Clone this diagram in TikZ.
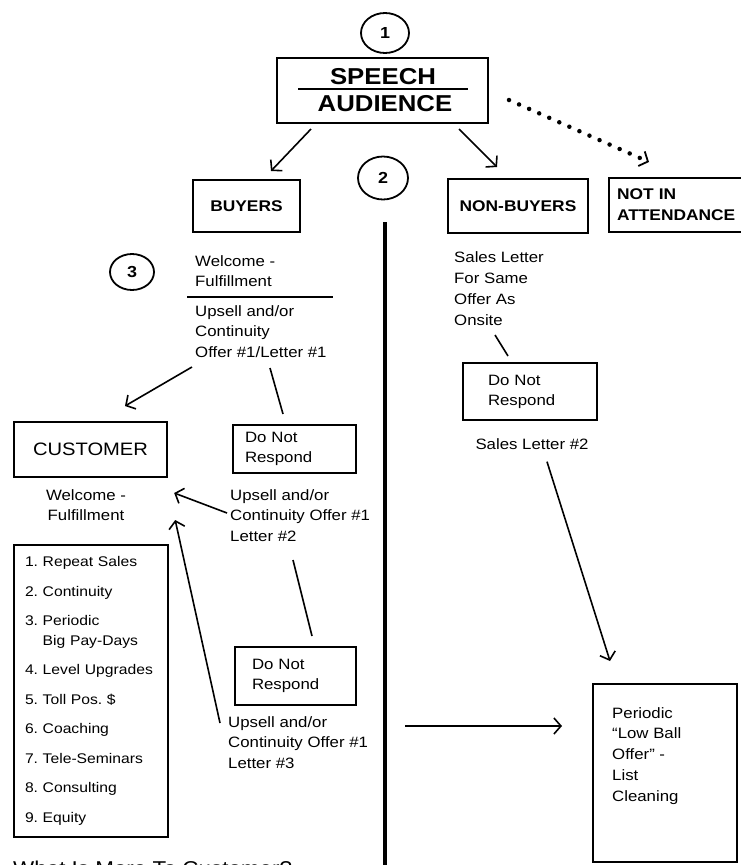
\documentclass[tikz,border=0pt]{standalone}
\usepackage{fontspec}
\setmainfont{Liberation Sans}[FakeStretch=1.12]
\usetikzlibrary{arrows.meta,shapes.geometric}
\newcommand\myfs[2]{\fontsize{#1}{#2}\selectfont}
\frenchspacing
\tikzset{
  box/.style={draw, line width=2pt, inner sep=0pt},
  circ/.style={draw, ellipse, line width=1.8pt, inner sep=0pt, font=\bfseries\myfs{16}{18}},
  txt/.style={inner sep=0pt, align=left, anchor=north west, font=\myfs{15}{20.5}},
  lbl/.style={font=\bfseries\myfs{15.5}{21}},
  dnr/.style={box, align=left, font=\myfs{15}{20}},
  ln/.style={line width=1.6pt},
  arr/.style={line width=1.6pt, -{Straight Barb[length=7pt,width=16pt]}},
  dotarr/.style={line width=4.5pt, line cap=round, dash pattern=on 0pt off 11pt,
     -{Straight Barb[length=7pt,width=16pt,line width=1.8pt]}},
}
\begin{document}
\frenchspacing
\begin{tikzpicture}[x=1pt,y=-1pt]
\useasboundingbox (0,0) rectangle (740,865);
\fill[white] (0,0) rectangle (740,865);

% top
\node[circ, minimum width=48pt, minimum height=40pt] (c1) at (385,33) {1};
\node[box, minimum width=211pt, minimum height=65pt] (speech) at (382.5,90.5) {};
\node[inner sep=0pt, font=\bfseries\myfs{23}{26}] (speecht) at (383,76.5) {SPEECH};
\node[inner sep=0pt, font=\bfseries\myfs{23}{26}] (audt) at (385,104) {AUDIENCE};
\draw[line width=2pt] (298,89) -- (468,89);

\node[circ, minimum width=50pt, minimum height=43pt] (c2) at (383,178) {2};
\node[box, lbl, minimum width=107pt, minimum height=52pt] (buyers) at (246.5,206) {BUYERS};
\node[box, lbl, minimum width=140pt, minimum height=54pt] (nonbuyers) at (518,206) {NON-BUYERS};
\node[box, lbl, align=left, text width=120pt, inner xsep=8pt, minimum height=54pt] (notin) at (677,205) {NOT IN\\ATTENDANCE};

\draw[arr] ([xshift=35pt,yshift=-5pt]speech.south west) -- ([xshift=79pt,yshift=8pt]buyers.north west);
\draw[arr] ([xshift=-30pt,yshift=-5pt]speech.south east) -- ([xshift=50pt,yshift=11pt]nonbuyers.north west);
\draw[dotarr] ([xshift=20pt,yshift=-9.5pt]speech.east) -- ([xshift=41pt,yshift=15pt]notin.north west);

% divider
\coordinate (vtop) at (385,222);
\coordinate (vbot) at (385,875);
\draw[line width=4pt] (vtop) -- (vbot);

% buyers branch
\node[circ, minimum width=44pt, minimum height=36pt] (c3) at (132,272) {3};
\node[txt] (bw) at (195,255) {Welcome -\\Fulfillment};
\draw[line width=1.8pt] (187,297) -- (333,297);
\node[txt] (bu) at (195,305) {Upsell and/or\\Continuity\\Offer \#1/Letter \#1};

\node[box, minimum width=153pt, minimum height=55pt, font=\myfs{18}{20}] (customer) at (90.5,449.5) {CUSTOMER};
\node[dnr, text width=99pt, inner xsep=12pt, minimum height=48pt] (dnr1) at (294.5,449) {Do Not\\Respond};

\coordinate (u1a) at (192,367);
\coordinate (u1b) at (270,368);
\draw[arr] (u1a) -- ([xshift=34.5pt,yshift=15pt]customer.north);
\draw[ln] (u1b) -- ([xshift=-11.5pt,yshift=10pt]dnr1.north);

\node[txt, align=center, anchor=north] (cwel) at (86,489) {Welcome -\\Fulfillment};
\node[txt] (ups2) at (230,489) {Upsell and/or\\Continuity Offer \#1\\Letter \#2};

\node[box, align=left, text width=132pt, inner xsep=11pt, minimum height=292pt, font=\myfs{14}{19.5}] (list) at (91,691)
 {1. Repeat Sales\\[10pt]
  2. Continuity\\[10pt]
  3. Periodic\\\hphantom{3.\ }Big Pay-Days\\[10pt]
  4. Level Upgrades\\[10pt]
  5. Toll Pos. \$\\[10pt]
  6. Coaching\\[10pt]
  7. Tele-Seminars\\[10pt]
  8. Consulting\\[10pt]
  9. Equity};

\node[dnr, text width=87pt, inner xsep=17pt, minimum height=58pt] (dnr2) at (295.5,676) {Do Not\\Respond};
\node[txt] (ups3) at (228,716) {Upsell and/or\\Continuity Offer \#1\\Letter \#3};

\coordinate (u2a) at (227,513);
\coordinate (u2b) at (293,560);
\coordinate (u3a) at (220,723);
\draw[arr] (u2a) -- ([xshift=48pt,yshift=-4pt]cwel.north east);
\draw[ln] (u2b) -- ([xshift=16.5pt,yshift=10pt]dnr2.north);
\draw[arr] (u3a) -- ([xshift=49pt,yshift=-31pt]cwel.north east);

% non-buyers branch
\node[txt, font=\myfs{15}{21}] (nbt) at (454,251) {Sales Letter\\For Same\\Offer As\\Onsite};
\node[dnr, text width=84pt, inner xsep=25pt, minimum height=57pt] (dnr3) at (530,391.5) {Do Not\\Respond};
\node[inner sep=0pt, font=\myfs{15}{20}] (sl2) at (532,444) {Sales Letter \#2};
\coordinate (nb1) at (495,335);
\draw[ln] (nb1) -- ([xshift=-22pt,yshift=6pt]dnr3.north);

\node[box, minimum width=144pt, minimum height=178pt] (periodic) at (665,773) {};
\node[txt, font=\myfs{15}{20.8}] (periodict) at (612,707) {Periodic\\“Low Ball\\Offer” -\\List\\Cleaning};

\draw[arr] ([xshift=15pt,yshift=-12pt]sl2.south) -- ([xshift=-55pt,yshift=22pt]periodic.north);
\coordinate (h1) at (405,726);
\draw[arr] (h1) -- ([xshift=-30pt,yshift=47pt]periodic.west);

% bottom caption (cut by the page edge, as in the reference)
\node[inner sep=0pt, anchor=north west, font=\myfs{20}{24}] (bottom) at (13,861) {What Is More To Customer?};
\end{tikzpicture}
\end{document}
